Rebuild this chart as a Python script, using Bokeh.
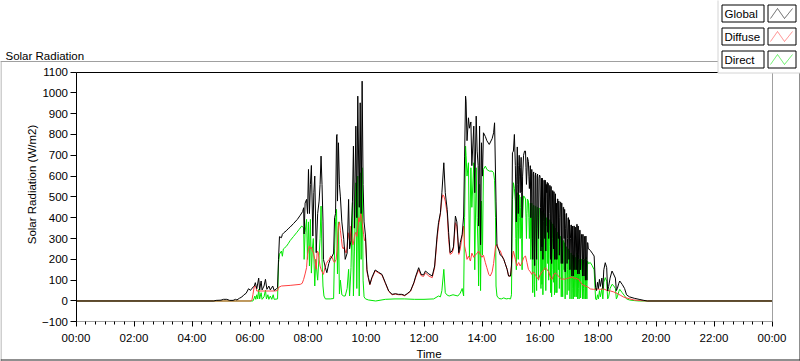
from bokeh.plotting import figure
from bokeh.models import (Range1d, FixedTicker, Label, BoxAnnotation, PolyAnnotation,
                          ColumnDataSource, LinearAxis)
from bokeh.embed import file_html
from bokeh.resources import INLINE

# ---------------- data (time in minutes after midnight, W/m2) ----------------
GLOBAL = [
    (0, 0), (285, 0), (290, 3), (300, 4), (305, 8), (312, 8), (318, 3), (325, 3), (330, 8), (333, 5),
    (338, 13), (343, 19), (347, 29), (352, 37), (357, 59), (361, 51), (364, 61), (369, 72), (371, 88),
    (374, 59), (378, 110), (380, 53), (383, 96), (385, 53), (389, 72), (392, 104), (395, 56), (399, 72),
    (402, 53), (407, 72), (410, 51), (415, 59), (417, 64), (419, 200), (421, 309), (425, 304), (427, 320),
    (430, 328), (435, 337), (439, 347), (443, 355), (450, 372), (458, 392), (464, 412), (469, 430),
    (471, 448), (472, 322), (474, 470), (477, 488), (479, 420), (481, 632), (483, 420), (485, 560),
    (487, 651), (490, 312), (492, 520), (494, 600), (497, 232), (500, 420), (503, 480), (505, 560),
    (507, 696), (509, 560), (511, 384), (512, 200), (516, 160), (519, 136), (523, 180), (526, 200),
    (530, 215), (533, 230), (535, 400), (537, 420), (539, 792), (540, 800), (541, 480), (543, 760),
    (545, 560), (547, 500), (550, 380), (554, 296), (557, 200), (561, 230), (564, 488), (566, 250),
    (569, 290), (572, 480), (574, 744), (576, 350), (579, 840), (581, 400), (583, 984), (586, 450),
    (588, 952), (590, 420), (592, 1056), (594, 560), (596, 380), (599, 312), (602, 150), (605, 112),
    (608, 80), (612, 112), (619, 149), (626, 138), (633, 128), (640, 88), (647, 48), (654, 32),
    (661, 35), (667, 32), (674, 32), (680, 27), (685, 35), (692, 48), (699, 88), (703, 120), (709, 160),
    (714, 128), (719, 125), (723, 144), (730, 130), (737, 120), (742, 168), (747, 312), (750, 376),
    (754, 424), (757, 520), (761, 664), (764, 520), (768, 440), (771, 328), (774, 232), (778, 240),
    (781, 260), (785, 408), (788, 380), (792, 232), (795, 280), (799, 320), (802, 408), (804, 696),
    (806, 984), (807, 960), (809, 770), (812, 880), (814, 830), (817, 860), (819, 650), (823, 840),
    (825, 520), (828, 888), (830, 720), (832, 650), (833, 360), (835, 840), (837, 270), (839, 760),
    (841, 600), (843, 808), (847, 790), (850, 770), (855, 752), (861, 780), (864, 808), (866, 856),
    (869, 480), (871, 264), (874, 250), (878, 220), (881, 216), (885, 200), (888, 180), (892, 152),
    (895, 120), (899, 120), (901, 168), (903, 712), (905, 720), (907, 800), (909, 650), (910, 500),
    (911, 380), (912, 600), (913, 740), (914, 560), (915, 420), (916, 650), (917, 700), (918, 600),
    (919, 520), (920, 640), (921, 690), (922, 520), (923, 400), (924, 600), (926, 700), (928, 720),
    (930, 720), (931, 640), (932, 560), (933, 620), (934, 690), (936, 670), (937, 600), (938, 540),
    (939, 600), (940, 650), (941, 400),
    (943, 632), (944, 300), (945, 200), (946, 610), (947, 620), (948, 250), (949, 170), (950, 600),
    (951, 615), (952, 350), (953, 200), (954, 600), (955, 610), (956, 400), (957, 300), (958, 590),
    (959, 605), (960, 600), (961, 450), (962, 240), (963, 590), (964, 260), (965, 590), (966, 200),
    (967, 380), (968, 580), (969, 580), (970, 300), (971, 580), (972, 240), (973, 560), (974, 520),
    (975, 570), (976, 330), (977, 565), (978, 300), (979, 420), (980, 555), (981, 555), (982, 200),
    (983, 550), (984, 180), (985, 300), (986, 530), (987, 530), (988, 250), (989, 525), (990, 200),
    (991, 480), (992, 515), (993, 200), (994, 470), (995, 200), (996, 490), (997, 490), (998, 300),
    (999, 480), (1000, 220), (1001, 400), (1002, 475), (1003, 475), (1004, 180), (1005, 470),
    (1006, 250), (1007, 180), (1008, 450), (1009, 450), (1010, 300), (1011, 440), (1012, 140),
    (1013, 350), (1014, 420), (1015, 420), (1016, 180), (1017, 300), (1018, 400), (1019, 400),
    (1020, 200), (1021, 390), (1022, 150), (1023, 300), (1024, 365), (1025, 365), (1026, 120),
    (1027, 360), (1028, 200), (1029, 120), (1030, 360), (1031, 360), (1032, 150), (1033, 355),
    (1034, 250), (1035, 150), (1036, 368), (1037, 368), (1038, 130), (1039, 360), (1040, 200),
    (1041, 130), (1042, 340), (1043, 340), (1044, 150), (1045, 250), (1046, 320), (1047, 320),
    (1048, 120), (1049, 320), (1050, 200), (1051, 120), (1052, 310), (1053, 310), (1054, 100),
    (1055, 312), (1056, 200), (1057, 100), (1058, 280), (1059, 280), (1060, 250), (1061, 250),
    (1064, 243), (1068, 230),
    (1072, 216), (1075, 64), (1077, 50), (1079, 90), (1081, 60), (1083, 104), (1085, 70), (1088, 110),
    (1090, 60), (1092, 150), (1095, 184), (1098, 160), (1100, 48), (1102, 70), (1105, 110), (1109, 144),
    (1112, 130), (1116, 110), (1118, 50), (1120, 60), (1123, 85), (1125, 96), (1130, 80), (1135, 60),
    (1139, 30), (1145, 20), (1155, 13), (1165, 8), (1175, 3), (1182, 0), (1440, 0),
]

DIFFUSE = [
    (0, 0), (362, 0), (364, 5), (366, 30), (369, 72), (372, 70), (374, 48), (390, 48), (410, 48),
    (417, 50), (419, 65), (425, 72), (443, 75), (464, 80), (468, 85), (471, 104), (474, 130), (477, 160),
    (479, 224), (481, 248), (483, 264), (485, 250), (487, 258), (489, 240), (491, 235), (494, 200),
    (497, 152), (499, 240), (501, 235), (503, 200), (505, 168), (507, 152), (509, 140), (512, 128),
    (515, 160), (518, 180), (521, 192), (524, 200), (527, 216), (530, 210), (533, 190), (535, 184),
    (538, 200), (540, 240), (542, 330), (543, 360), (545, 380), (547, 340), (549, 300), (551, 260),
    (553, 250), (555, 260), (557, 240), (559, 230), (561, 260), (563, 328), (565, 300), (567, 280),
    (569, 360), (571, 300), (573, 270), (575, 290), (577, 320), (579, 330), (581, 310), (583, 350),
    (585, 400), (587, 380), (589, 420), (591, 400), (593, 360), (595, 320), (597, 290), (599, 300),
    (602, 140), (605, 108), (608, 78), (612, 108), (619, 145), (626, 135), (633, 125), (640, 85),
    (647, 46), (654, 30), (661, 33), (667, 30), (674, 30), (680, 25), (685, 33), (692, 46), (699, 85),
    (703, 115), (709, 150), (714, 122), (719, 118), (723, 135), (730, 120), (737, 112), (742, 160),
    (747, 295), (750, 360), (754, 420), (757, 490), (759, 510), (761, 505), (764, 480), (768, 420),
    (771, 296), (774, 224), (778, 230), (781, 250), (785, 376), (788, 360), (792, 224), (795, 250),
    (799, 312), (802, 360), (804, 264), (807, 230), (809, 200), (812, 215), (816, 192), (819, 230),
    (823, 210), (826, 220), (830, 230), (833, 240), (837, 220), (840, 210), (843, 220), (847, 184),
    (850, 160), (854, 128), (857, 120), (861, 140), (864, 180), (868, 264), (871, 272), (874, 250),
    (878, 240), (881, 220), (885, 200), (888, 180), (892, 152), (895, 120), (899, 120), (902, 200),
    (905, 240), (909, 200), (912, 168), (916, 185), (919, 168), (923, 185), (926, 208), (930, 216),
    (933, 185), (936, 152), (940, 140), (943, 128), (946, 140), (950, 128), (953, 115), (957, 104),
    (960, 125), (964, 140), (968, 150), (971, 160), (975, 150), (978, 140), (982, 110), (985, 104),
    (989, 130), (992, 135), (995, 128), (998, 120), (1002, 110), (1005, 104), (1008, 106), (1012, 104),
    (1015, 108), (1019, 110), (1022, 112), (1026, 115), (1030, 110), (1033, 110), (1037, 106),
    (1040, 104), (1044, 90), (1047, 80), (1051, 75), (1054, 72), (1058, 68), (1061, 64), (1064, 58),
    (1071, 56), (1078, 58), (1085, 56), (1092, 58), (1099, 50), (1106, 48), (1112, 44), (1119, 37),
    (1126, 28), (1133, 19), (1140, 14), (1154, 5), (1168, 2), (1181, 0), (1440, 0),
]

DIRECT = [
    (0, 0), (366, 0), (368, 10), (370, 24), (372, 8), (374, 30), (376, 10), (378, 56), (380, 10),
    (383, 40), (385, 8), (389, 20), (392, 52), (394, 10), (397, 30), (399, 8), (402, 24), (405, 8),
    (408, 30), (410, 8), (417, 10), (419, 184), (421, 225), (425, 240), (427, 215), (429, 250),
    (432, 256), (435, 262), (439, 275), (443, 290), (450, 310), (457, 330), (462, 345), (467, 360),
    (471, 352), (472, 200), (474, 330), (477, 392), (479, 200), (481, 380), (483, 168), (485, 392),
    (487, 134), (489, 250), (491, 300), (494, 72), (496, 200), (498, 150), (500, 100), (503, 220),
    (505, 300), (507, 456), (509, 200), (511, 72), (513, 24), (516, 10), (526, 10), (533, 12),
    (535, 250), (537, 380), (539, 440), (541, 130), (543, 380), (545, 34), (547, 100), (550, 30),
    (554, 24), (557, 24), (561, 60), (564, 152), (566, 24), (569, 160), (572, 472), (574, 24),
    (576, 240), (579, 568), (581, 60), (583, 600), (586, 24), (588, 616), (590, 200), (592, 640),
    (594, 100), (596, 20), (599, 10), (605, 5), (620, 0), (640, 8), (660, 10), (680, 10), (700, 8),
    (720, 8), (740, 10), (750, 24), (754, 20), (757, 50), (761, 152), (764, 40), (767, 30), (772, 24),
    (780, 30), (790, 24), (795, 38), (799, 60), (802, 24), (804, 400), (806, 744), (807, 700),
    (809, 600), (812, 664), (814, 210), (817, 640), (819, 450), (823, 664), (825, 150), (828, 640),
    (830, 400), (832, 240), (833, 72), (835, 560), (837, 50), (839, 480), (841, 220), (843, 632),
    (847, 648), (850, 632), (855, 624), (861, 624), (864, 616), (866, 580), (868, 400), (869, 72),
    (871, 24), (875, 12), (880, 10), (885, 15), (890, 10), (895, 12), (899, 10), (901, 30), (903, 488),
    (905, 568), (907, 540), (909, 480), (910, 300), (911, 150), (912, 400), (913, 520), (914, 350),
    (915, 200), (916, 450), (917, 510), (918, 400), (919, 300), (920, 450), (921, 500), (922, 300),
    (923, 150), (924, 400), (926, 505), (928, 500), (930, 490), (931, 400), (932, 300), (933, 420),
    (934, 490), (936, 480), (937, 400), (938, 300), (939, 400), (940, 470), (941, 200),
    (943, 470), (944, 150), (945, 40), (946, 450), (947, 460), (948, 80), (949, 20), (950, 455),
    (951, 455), (952, 200), (953, 50), (954, 450), (955, 450), (956, 250), (957, 100), (958, 445),
    (959, 445), (960, 440), (961, 300), (962, 60), (963, 430), (964, 80), (965, 430), (966, 30),
    (967, 230), (968, 420), (969, 420), (970, 150), (971, 415), (972, 50), (973, 400), (974, 360),
    (975, 400), (976, 180), (977, 400), (978, 100), (979, 260), (980, 390), (981, 390), (982, 40),
    (983, 380), (984, 20), (985, 150), (986, 370), (987, 370), (988, 90), (989, 360), (990, 30),
    (991, 320), (992, 350), (993, 40), (994, 320), (995, 40), (996, 330), (997, 330), (998, 150),
    (999, 320), (1000, 60), (1001, 250), (1002, 310), (1003, 310), (1004, 20), (1005, 300),
    (1006, 100), (1007, 20), (1008, 290), (1009, 290), (1010, 150), (1011, 280), (1012, 10),
    (1013, 200), (1014, 260), (1015, 260), (1016, 30), (1017, 150), (1018, 250), (1019, 250),
    (1020, 50), (1021, 240), (1022, 10), (1023, 150), (1024, 230), (1025, 230), (1026, 10),
    (1027, 220), (1028, 60), (1029, 10), (1030, 220), (1031, 220), (1032, 20), (1033, 210),
    (1034, 100), (1035, 20), (1036, 230), (1037, 230), (1038, 10), (1039, 220), (1040, 60),
    (1041, 10), (1042, 200), (1043, 200), (1044, 15), (1045, 100), (1046, 200), (1047, 200),
    (1048, 10), (1049, 190), (1050, 60), (1051, 10), (1052, 200), (1053, 200), (1054, 10),
    (1055, 210), (1056, 80), (1057, 10), (1058, 190), (1059, 190), (1060, 180), (1061, 180),
    (1064, 185), (1068, 170), (1072, 150), (1075, 10), (1077, 5), (1079, 30),
    (1081, 10), (1083, 50), (1085, 20), (1088, 60), (1090, 10), (1092, 90), (1095, 112), (1098, 95),
    (1100, 10), (1102, 20), (1105, 60), (1109, 80), (1112, 75), (1116, 60), (1118, 10), (1120, 20),
    (1123, 45), (1125, 56), (1130, 40), (1135, 25), (1139, 10), (1145, 5), (1155, 2), (1165, 0),
    (1440, 0),
]

X_TICKS = [0, 120, 240, 360, 480, 600, 720, 840, 960, 1080, 1200, 1320, 1440]
X_TICK_LABELS = ["00:00", "02:00", "04:00", "06:00", "08:00", "10:00", "12:00",
                 "14:00", "16:00", "18:00", "20:00", "22:00", "00:00"]
X_MINOR = list(range(0, 1441, 20))
Y_TICKS = [-100, 0, 100, 200, 300, 400, 500, 600, 700, 800, 900, 1000, 1100]
X_LIMITS = (0, 1440)
Y_LIMITS = (-100, 1100)

SERIES = ["Global", "Diffuse", "Direct"]
COLORS = {"Global": "#000000", "Diffuse": "#ff4040", "Direct": "#00e600"}

TITLE = "Solar Radiation"
X_LABEL = "Time"
Y_LABEL = "Solar Radiation (W/m2)"

FONT = "Liberation Sans"
FS = "11.5px"

# ---------------- layout (canvas pixels) ----------------
W, H = 800, 361
PL, PR = 75.5, 771.5     # canvas x of 00:00 and 24:00
PT, PB = 71.5, 321.318   # canvas y of 1100 and -100

kx = (PR - PL) / (X_LIMITS[1] - X_LIMITS[0])
ky = (PB - PT) / (Y_LIMITS[1] - Y_LIMITS[0])
x_range = Range1d(X_LIMITS[0] - PL / kx, X_LIMITS[1] + (W - PR) / kx)
y_range = Range1d(Y_LIMITS[0] - (H - PB) / ky, Y_LIMITS[1] + PT / ky)

p = figure(width=W, height=H, output_backend="svg", toolbar_location=None, title=None,
           x_range=x_range, y_range=y_range, x_axis_location=None, y_axis_location=None,
           min_border=0, min_border_left=0, min_border_right=0, min_border_top=0, min_border_bottom=0)
p.background_fill_color = "white"
p.border_fill_color = "white"
p.outline_line_color = None
p.grid.visible = False

# x axis (inside the frame, at y = -100)
xa = LinearAxis(fixed_location=Y_LIMITS[0], bounds=X_LIMITS,
                ticker=FixedTicker(ticks=X_TICKS, minor_ticks=X_MINOR))
xa.major_label_overrides = {t: l for t, l in zip(X_TICKS, X_TICK_LABELS)}
xa.axis_line_color = "#a0a0a0"
xa.major_tick_in = 0
xa.major_tick_out = 5
xa.minor_tick_in = 0
xa.minor_tick_out = 3
xa.major_tick_line_color = "black"
xa.minor_tick_line_color = "black"
xa.major_label_standoff = 5
xa.major_label_text_font = FONT
xa.major_label_text_font_size = FS
xa.major_label_text_color = "#000000"
p.add_layout(xa, "below")

# y axis (inside the frame, at x = 00:00)
ya = LinearAxis(fixed_location=X_LIMITS[0], bounds=Y_LIMITS,
                ticker=FixedTicker(ticks=Y_TICKS, minor_ticks=[]))
ya.axis_line_color = "black"
ya.major_tick_in = 0
ya.major_tick_out = 6
ya.minor_tick_in = 0
ya.minor_tick_out = 0
ya.major_tick_line_color = "black"
ya.major_label_standoff = 2
ya.major_label_text_font = FONT
ya.major_label_text_font_size = FS
ya.major_label_text_color = "#000000"
p.add_layout(ya, "left")

# plot-area top (black) and right (grey) edges
top_edge = LinearAxis(fixed_location=Y_LIMITS[1], bounds=X_LIMITS, ticker=FixedTicker(ticks=[]),
                      axis_line_color="black", major_tick_out=0, minor_tick_out=0,
                      major_label_text_font_size="0px")
p.add_layout(top_edge, "above")
right_edge = LinearAxis(fixed_location=X_LIMITS[1], bounds=Y_LIMITS, ticker=FixedTicker(ticks=[]),
                        axis_line_color="#a0a0a0", major_tick_out=0, minor_tick_out=0,
                        major_label_text_font_size="0px")
p.add_layout(right_edge, "right")

# data lines (black drawn on top)
for name, data in (("Direct", DIRECT), ("Diffuse", DIFFUSE), ("Global", GLOBAL)):
    t, v = zip(*data)
    src = ColumnDataSource(dict(t=list(t), v=list(v)))
    p.line("t", "v", source=src, line_color=COLORS[name], line_width=1)


def box(l, r, t, b, fill=None, line=None):
    p.add_layout(BoxAnnotation(left=l, right=r, top=t, bottom=b,
                               left_units="canvas", right_units="canvas",
                               top_units="canvas", bottom_units="canvas",
                               fill_color=fill if fill else "white", fill_alpha=1 if fill else 0,
                               line_color=line, line_width=1, line_alpha=1 if line else 0))


# panel border (grey top/left, dark bottom/right)
box(0, 718, 60.5, 61.5, fill="#a0a0a0")
box(0, 1, 60.5, 361, fill="#a0a0a0")
box(0, 800, 359, 360, fill="#202020")
box(799, 800, 61, 360, fill="#202020")

# title and axis labels
p.add_layout(Label(x=5, y=55, x_units="canvas", y_units="canvas", text=TITLE,
                   text_font=FONT, text_font_size=FS, text_color="black",
                   text_baseline="alphabetic", text_align="left"))
p.add_layout(Label(x=428.5, y=353.5, x_units="canvas", y_units="canvas", text=X_LABEL,
                   text_font=FONT, text_font_size=FS, text_color="black",
                   text_baseline="alphabetic", text_align="center"))
p.add_layout(Label(x=31, y=184, x_units="canvas", y_units="canvas", text=Y_LABEL,
                   angle=1.5707963, text_font=FONT, text_font_size=FS, text_color="black",
                   text_baseline="middle", text_align="center"))

# legend
box(717.5, 801, -1, 72.5, fill="white", line="#d4d4d4")
for i, name in enumerate(SERIES):
    top = 4.5 + 23 * i
    box(721.5, 763.5, top, top + 17, fill="white", line="black")
    box(767.5, 795.5, top, top + 17, fill="white", line="black")
    p.add_layout(Label(x=724, y=top + 8.5, x_units="canvas", y_units="canvas", text=name,
                       text_font=FONT, text_font_size=FS, text_color="black",
                       text_baseline="middle", text_align="left"))
    zx = [770, 777, 784, 792, 784, 777]
    zy = [top + 13.5, top + 3.5, top + 13.5, top + 3.5, top + 13.5, top + 3.5]
    p.add_layout(PolyAnnotation(xs=zx, ys=zy, xs_units="canvas", ys_units="canvas",
                                fill_alpha=0, line_color=COLORS[name], line_width=1))

open("out.html", "w").write(file_html(p, INLINE))
